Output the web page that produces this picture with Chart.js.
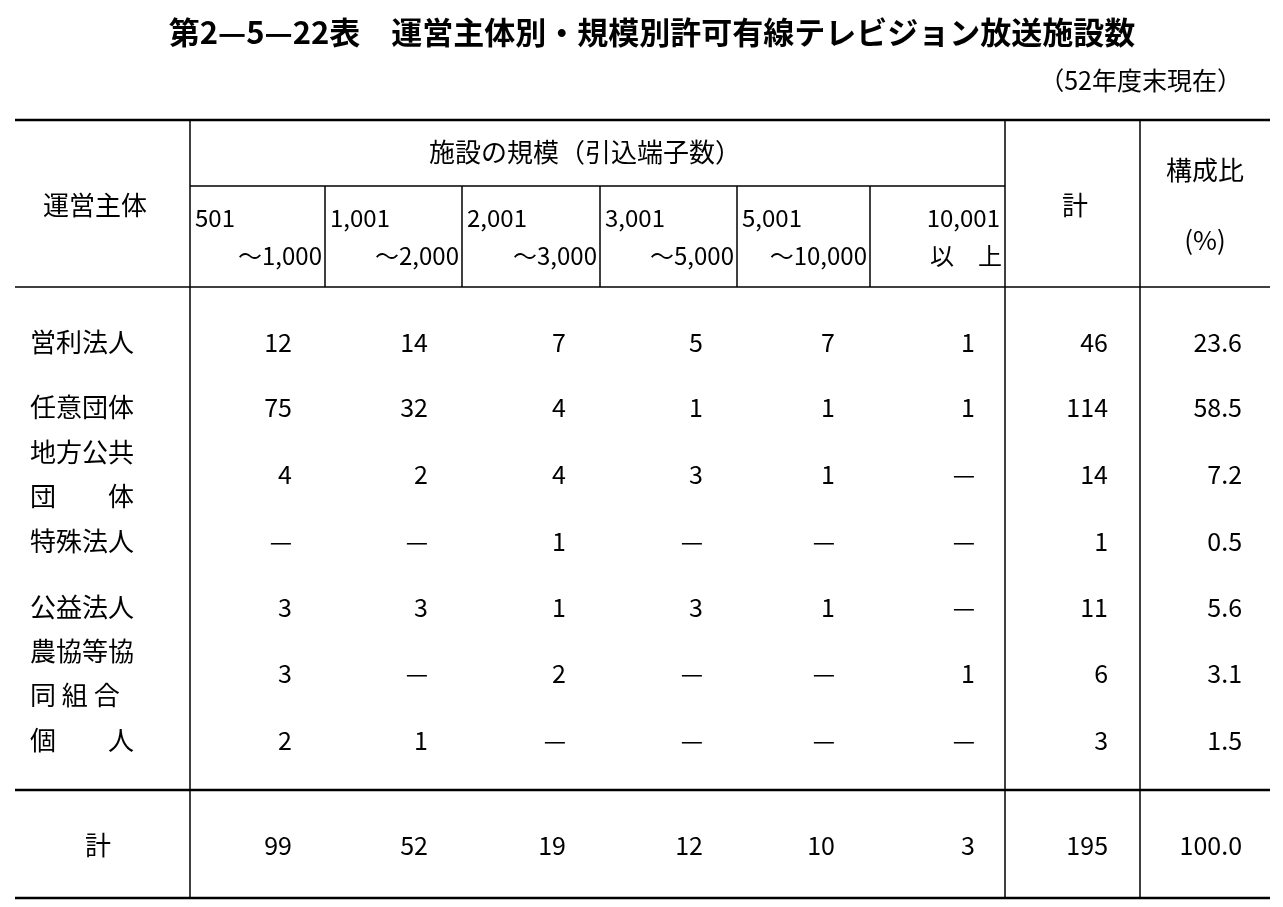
<!DOCTYPE html>
<html><head><meta charset="utf-8">
<script src="https://cdn.jsdelivr.net/npm/chart.js@4"></script>
<style>
body{margin:0;background:#fff;}
#wrap{position:relative;width:1283px;height:907px;}
</style></head>
<body><div id="wrap"><canvas id="tbl" width="1283" height="907"></canvas></div>
<script>
// Table data
const title = '第2—5—22表　運営主体別・規模別許可有線テレビジョン放送施設数';
const note = '（52年度末現在）';
const rowLabels = [['営利法人'], ['任意団体'], ['地方公共', '団　　体'], ['特殊法人'], ['公益法人'], ['農協等協', '同 組 合'], ['個　　人']];
const sizeFrom = ['501', '1,001', '2,001', '3,001', '5,001', '10,001'];
const sizeTo = ['～1,000', '～2,000', '～3,000', '～5,000', '～10,000', '以　上'];
const size501 = [12, 75, 4, null, 3, 3, 2];
const size1001 = [14, 32, 2, null, 3, null, 1];
const size2001 = [7, 4, 4, 1, 1, 2, null];
const size3001 = [5, 1, 3, null, 3, null, null];
const size5001 = [7, 1, 1, null, 1, null, null];
const size10001 = [1, 1, null, null, null, 1, null];
const rowTotals = [46, 114, 14, 1, 11, 6, 3];
const shares = ['23.6', '58.5', '7.2', '0.5', '5.6', '3.1', '1.5'];
const colTotals = [99, 52, 19, 12, 10, 3, 195, '100.0'];

const columns = [size501, size1001, size2001, size3001, size5001, size10001, rowTotals, shares];

// layout (pixel grid on the linear scales)
const rowY = [342, 407, 474, 541, 607, 673, 740];
const colRight = [292, 428, 566, 703, 835, 975, 1108, 1242];
const subLines = [190, 325, 462, 600, 737, 870, 1005];
const FONT = '"Noto Sans CJK JP", "Noto Sans", sans-serif';

const tablePlugin = {
  id: 'table',
  afterDraw(chart) {
    const c = chart.ctx, xs = chart.scales.x, ys = chart.scales.y;
    const X = v => xs.getPixelForValue(v), Y = v => ys.getPixelForValue(v);
    const line = (x1, y1, x2, y2, w) => {
      c.beginPath(); c.lineWidth = w; c.strokeStyle = '#000';
      c.moveTo(X(x1), Y(y1)); c.lineTo(X(x2), Y(y2)); c.stroke();
    };
    const text = (s, x, y, align, size, bold) => {
      c.font = (bold ? 'bold ' : '') + size + 'px ' + FONT;
      c.fillStyle = '#000'; c.textAlign = align; c.textBaseline = 'middle';
      c.fillText(s, X(x), Y(y));
    };
    c.save();
    text(title, 652, 32, 'center', 31, true);
    text(note, 1242, 80, 'right', 25);
    // rules
    line(15, 120, 1270, 120, 2.5);
    line(190, 186, 1005, 186, 1.5);
    line(15, 287, 1270, 287, 1.5);
    line(15, 790, 1270, 790, 2.5);
    line(15, 898, 1270, 898, 2.5);
    line(190, 120, 190, 898, 1.5);
    line(1005, 120, 1005, 898, 1.5);
    line(1140, 120, 1140, 898, 1.5);
    subLines.slice(1, -1).forEach(x => line(x, 186, x, 287, 1.5));
    // header
    text('施設の規模（引込端子数）', 585, 152, 'center', 26);
    text('運営主体', 95, 205, 'center', 26);
    text('計', 1075, 205, 'center', 26);
    text('構成比', 1205, 170, 'center', 26);
    text('(%)', 1205, 240, 'center', 26);
    sizeFrom.forEach((s, i) => {
      if (i < 5) text(s, subLines[i] + 5, 218, 'left', 24);
      else text(s, subLines[i + 1] - 5, 218, 'right', 24);
      text(sizeTo[i], subLines[i + 1] - 3, 256, 'right', 24);
    });
    // body
    rowLabels.forEach((lab, r) => {
      if (lab.length === 1) text(lab[0], 30, rowY[r], 'left', 26);
      else { text(lab[0], 30, rowY[r] - 22, 'left', 26); text(lab[1], 30, rowY[r] + 22, 'left', 26); }
      columns.forEach((col, k) => {
        const v = col[r];
        text(v === null ? '—' : String(v), colRight[k], rowY[r], 'right', 25);
      });
    });
    text('計', 98, 845, 'center', 26);
    colTotals.forEach((v, k) => text(String(v), colRight[k], 845, 'right', 25));
    c.restore();
  }
};

new Chart(document.getElementById('tbl'), {
  type: 'scatter',
  data: { datasets: [{ data: [] }] },
  options: {
    responsive: false, animation: false,
    layout: { padding: 0 },
    plugins: { legend: { display: false }, tooltip: { enabled: false } },
    scales: {
      x: { type: 'linear', min: 0, max: 1283, display: false },
      y: { type: 'linear', min: 0, max: 907, reverse: true, display: false }
    }
  },
  plugins: [tablePlugin]
});
</script></body></html>
